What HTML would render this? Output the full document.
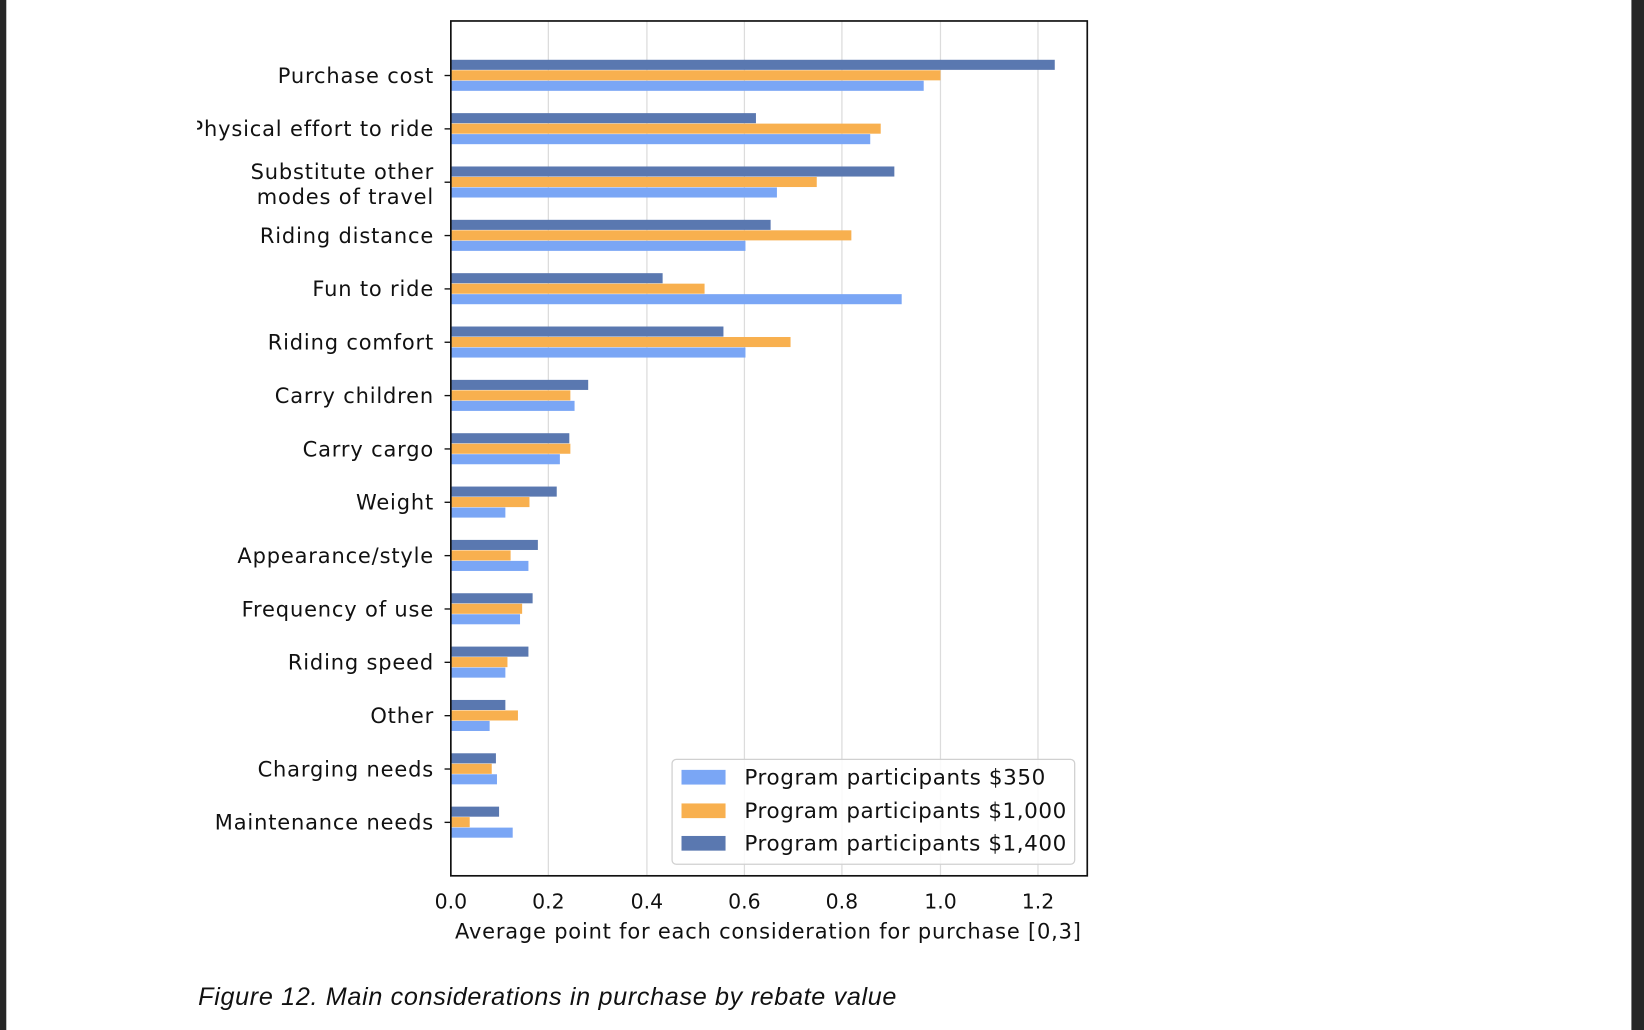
<!DOCTYPE html>
<html><head><meta charset="utf-8"><style>
html,body{margin:0;padding:0;background:#fff;width:1644px;height:1030px;overflow:hidden}
svg{display:block}
text{font-family:"DejaVu Sans","Liberation Sans",sans-serif;fill:#111}
</style></head><body>
<svg width="1644" height="1030" viewBox="0 0 1568 982" preserveAspectRatio="none">
<defs><clipPath id="c"><rect x="188" y="0" width="1400" height="982"/></clipPath></defs>
<rect x="0" y="0" width="1568" height="982" fill="#fff"/>
<rect x="0" y="0" width="6" height="982" fill="#262626"/>
<rect x="1556" y="0" width="12" height="982" fill="#262626"/>
<g stroke="#dcdcdc" stroke-width="1.2">
<line x1="523" y1="20" x2="523" y2="835"/><line x1="617" y1="20" x2="617" y2="835"/>
<line x1="710" y1="20" x2="710" y2="835"/><line x1="803" y1="20" x2="803" y2="835"/>
<line x1="897" y1="20" x2="897" y2="835"/><line x1="990" y1="20" x2="990" y2="835"/>
</g>
<g id="bars"></g>
<rect x="430" y="20" width="607" height="815" fill="none" stroke="#111" stroke-width="1.6"/>
<g id="ticks" stroke="#111" stroke-width="1.3"></g>
<g id="labels" font-size="20" letter-spacing="0.8" text-anchor="end" clip-path="url(#c)"></g>
<g font-size="19.5" text-anchor="middle">
<text x="430" y="866">0.0</text><text x="523" y="866">0.2</text><text x="617" y="866">0.4</text>
<text x="710" y="866">0.6</text><text x="803" y="866">0.8</text><text x="897" y="866">1.0</text><text x="990" y="866">1.2</text>
</g>
<text x="434" y="895" font-size="20" textLength="597" lengthAdjust="spacing">Average point for each consideration for purchase [0,3]</text>
<rect x="641" y="724" width="384" height="100" rx="4" fill="#fff" fill-opacity="0.85" stroke="#d0d0d0" stroke-width="1.2"/>
<rect x="650" y="734" width="42" height="14" fill="#7aa6f5"/>
<rect x="650" y="766" width="42" height="14" fill="#f8b04f"/>
<rect x="650" y="797" width="42" height="14" fill="#5a78b0"/>
<g font-size="20.5">
<text x="710" y="748" textLength="287" lengthAdjust="spacing">Program participants $350</text>
<text x="710" y="780" textLength="307" lengthAdjust="spacing">Program participants $1,000</text>
<text x="710" y="811" textLength="307" lengthAdjust="spacing">Program participants $1,400</text></g>
<text x="189" y="958" font-size="24" font-style="italic" textLength="666" lengthAdjust="spacing" style="font-family:'Liberation Sans',sans-serif">Figure 12. Main considerations in purchase by rebate value</text>
</svg>
<script>
var d=[["Purchase cost",1006,897,881],["Physical effort to ride",721,840,830],["Substitute other|modes of travel",853,779,741],["Riding distance",735,812,711],["Fun to ride",632,672,860],["Riding comfort",690,754,711],["Carry children",561,544,548],["Carry cargo",543,544,534],["Weight",531,505,482],["Appearance/style",513,487,504],["Frequency of use",508,498,496],["Riding speed",504,484,482],["Other",482,494,467],["Charging needs",473,469,474],["Maintenance needs",476,448,489]];
var ns="http://www.w3.org/2000/svg";
function el(p,t,a,txt){var e=document.createElementNS(ns,t);for(var k in a)e.setAttribute(k,a[k]);if(txt)e.textContent=txt;p.appendChild(e);return e;}
var B=document.getElementById("bars"),T=document.getElementById("ticks"),L=document.getElementById("labels");
var cols=["#5a78b0","#f8b04f","#7aa6f5"];
d.forEach(function(r,i){var y=72+i*50.86;
for(var j=0;j<3;j++){el(B,"rect",{x:430,y:y-15+j*10,width:r[j+1]-430,height:9.6,fill:cols[j]});}
el(T,"line",{x1:424,y1:y,x2:430,y2:y});
var parts=r[0].split("|");
if(parts.length==1)el(L,"text",{x:414,y:y+7},parts[0]);
else{el(L,"text",{x:414,y:y-3},parts[0]);el(L,"text",{x:414,y:y+21},parts[1]);}
});
</script>
</body></html>
